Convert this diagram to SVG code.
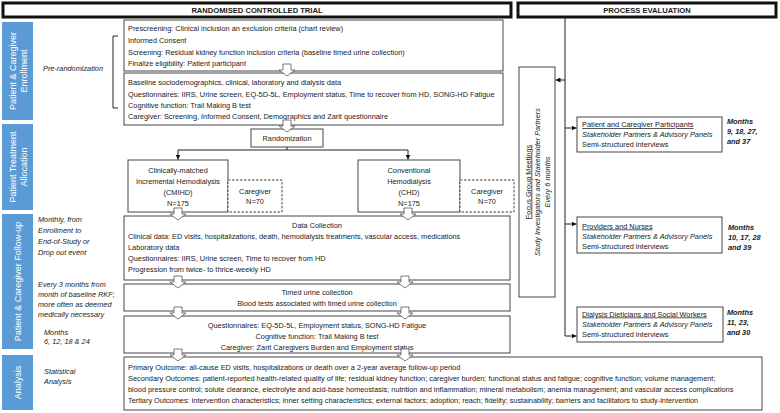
<svg xmlns="http://www.w3.org/2000/svg" width="780" height="413" viewBox="0 0 780 413">
<style>
text{font-family:"Liberation Sans",Arial,sans-serif;font-size:7.35px;fill:#1a1a1a}
.b{fill:#fff;stroke:#444;stroke-width:1}
.hd{fill:#fff;stroke:#111;stroke-width:3}
.dash{fill:#fff;stroke:#444;stroke-width:1;stroke-dasharray:2.5,1.5}
.bar{fill:#5b9bd5}
.bt{fill:#fff;font-size:9px}
.hdt{font-weight:bold;font-size:7.6px}
.it{font-style:italic}
.bi{font-style:italic;font-weight:bold}
.c{text-anchor:middle}
.u{text-decoration:underline}
.ln{fill:none;stroke:#222;stroke-width:1}
.ha{fill:#fff;stroke:#555;stroke-width:0.8}
</style>
<defs>
<marker id="ah" viewBox="0 0 6 6" refX="6" refY="3" markerWidth="5" markerHeight="5" orient="auto" markerUnits="userSpaceOnUse"><path d="M0,0 L6,3 L0,6 Z" fill="#111"/></marker>
<path id="hollow" d="M-4,0 H4 V6 H8 L0,12 L-8,6 H-4 Z"/>
</defs>

<g id="header-rct"><rect class="hd" x="3" y="3" width="508" height="14"/><text class="hdt c" x="257" y="12.7">RANDOMISED CONTROLLED TRIAL</text></g>
<g id="header-pe"><rect class="hd" x="518" y="3" width="258" height="14"/><text class="hdt c" x="647" y="12.7">PROCESS EVALUATION</text></g>

<g id="bar-enrollment"><rect class="bar" x="2" y="22" width="31" height="98"/><text class="bt c" transform="translate(17.5,71) rotate(-90)"><tspan x="0" y="-1.5">Patient &amp; Caregiver</tspan><tspan x="0" y="9">Enrollment</tspan></text></g>
<g id="bar-allocation"><rect class="bar" x="2" y="124" width="31" height="86"/><text class="bt c" transform="translate(17.5,167) rotate(-90)"><tspan x="0" y="-1.5">Patient Treatment</tspan><tspan x="0" y="9">Allocation</tspan></text></g>
<g id="bar-followup"><rect class="bar" x="2" y="214" width="31" height="135"/><text class="bt c" transform="translate(17.5,281.5) rotate(-90)"><tspan x="0" y="3">Patient &amp; Caregiver Follow-up</tspan></text></g>
<g id="bar-analysis"><rect class="bar" x="2" y="355" width="31" height="55"/><text class="bt c" transform="translate(17.5,382.5) rotate(-90)"><tspan x="0" y="3">Analysis</tspan></text></g>

<g id="side-labels">
<text class="it" x="43" y="71">Pre-randomization</text>
<path class="ln" d="M118,36 H113 V108 H118"/>
<text class="it" x="38"><tspan x="38" y="221.5">Monthly, from</tspan><tspan x="38" y="232.5">Enrollment to</tspan><tspan x="38" y="243.5">End-of-Study or</tspan><tspan x="38" y="254.5">Drop out event</tspan></text>
<text class="it" x="38"><tspan x="38" y="287">Every 3 months from</tspan><tspan x="38" y="297">month of baseline RKF;</tspan><tspan x="38" y="307">more often as deemed</tspan><tspan x="38" y="317">medically necessary</tspan></text>
<text class="it" x="44"><tspan x="44" y="334.5">Months</tspan><tspan x="44" y="344">6, 12, 18 &amp; 24</tspan></text>
<text class="it" x="44"><tspan x="44" y="374">Statistical</tspan><tspan x="44" y="384">Analysis</tspan></text>
</g>

<g id="prescreening"><rect class="b" x="124" y="20" width="379" height="51"/>
<text x="128"><tspan x="128" y="30.5">Prescreening: Clinical inclusion an exclusion criteria (chart review)</tspan><tspan x="128" y="42.5">Informed Consent</tspan><tspan x="128" y="54.5">Screening: Residual kidney function inclusion criteria (baseline timed urine collection)</tspan><tspan x="128" y="65.5">Finalize eligibility: Patient participant</tspan></text></g>

<g id="baseline"><rect class="b" x="124" y="73" width="379" height="52"/>
<text x="128"><tspan x="128" y="85">Baseline sociodemographics, clinical, laboratory and dialysis data</tspan><tspan x="128" y="96.5">Questionnaires: IIRS, Urine screen, EQ-5D-5L, Employment status, Time to recover from HD, SONG-HD Fatigue</tspan><tspan x="128" y="108">Cognitive function: Trail Making B test</tspan><tspan x="128" y="119">Caregiver: Screening, Informed Consent, Demographics and Zarit questionnaire</tspan></text></g>

<g id="randomization"><rect class="b" x="251" y="129" width="72" height="18"/><text class="c" x="287" y="140.7">Randomization</text></g>

<g id="cmihd"><rect class="b" x="128" y="160" width="100" height="52"/>
<text class="c"><tspan x="178" y="172.5">Clinically-matched</tspan><tspan x="178" y="183.5">Incremental Hemodialysis</tspan><tspan x="178" y="194.5">(CMIHD)</tspan><tspan x="178" y="205.5">N=175</tspan></text></g>
<g id="caregiver-1"><rect class="dash" x="228" y="180" width="54" height="32"/><text class="c"><tspan x="255" y="193.5">Caregiver</tspan><tspan x="255" y="204">N=70</tspan></text></g>

<g id="chd"><rect class="b" x="358" y="160" width="102" height="52"/>
<text class="c"><tspan x="409" y="172.5">Conventional</tspan><tspan x="409" y="183.5">Hemodialysis</tspan><tspan x="409" y="194.5">(CHD)</tspan><tspan x="409" y="205.5">N=175</tspan></text></g>
<g id="caregiver-2"><rect class="dash" x="460" y="180" width="54" height="32"/><text class="c"><tspan x="487" y="193.5">Caregiver</tspan><tspan x="487" y="204">N=70</tspan></text></g>

<g id="data-collection"><rect class="b" x="124" y="216" width="386" height="64"/>
<text class="c" x="317" y="227.5">Data Collection</text>
<text x="128"><tspan x="128" y="238.5">Clinical data: ED visits, hospitalizations, death, hemodialysis treatments, vascular access, medications</tspan><tspan x="128" y="249.5">Laboratory data</tspan><tspan x="128" y="260.5">Questionnaires:  IIRS, Urine screen, Time to recover from HD</tspan><tspan x="128" y="271.5">Progression from twice- to thrice-weekly HD</tspan></text></g>

<g id="timed-urine"><rect class="b" x="124" y="284" width="386" height="27"/>
<text class="c"><tspan x="317" y="294.5">Timed urine collection</tspan><tspan x="317" y="305.5">Blood tests associated with timed urine collection</tspan></text></g>

<g id="questionnaires"><rect class="b" x="124" y="316" width="386" height="37"/>
<text class="c"><tspan x="317" y="327.5">Questionnaires: EQ-5D-5L, Employment status, SONG-HD Fatigue</tspan><tspan x="317" y="338.5">Cognitive function: Trail Making B test</tspan><tspan x="317" y="349.5">Caregiver: Zarit Caregivers Burden and Employment status</tspan></text></g>

<g id="outcomes"><rect class="b" x="124" y="357" width="638" height="53"/>
<text x="128"><tspan x="128" y="369.5">Primary Outcome: all-cause ED visits, hospitalizations or death over a 2-year average follow-up period</tspan><tspan x="128" y="380.5">Secondary Outcomes: patient-reported health-related quality of life; residual kidney function; caregiver burden; functional status and fatigue; cognitive function; volume management;</tspan><tspan x="128" y="391.5">blood pressure control; solute clearance, electrolyte and acid-base homeostasis; nutrition and inflammation; mineral metabolism; anemia management; and vascular access complications</tspan><tspan x="128" y="402.5">Tertiary Outcomes: intervention characteristics; inner setting characteristics; external factors; adoption; reach; fidelity; sustainability; barriers and facilitators to study-intervention</tspan></text></g>

<g id="focus-group"><rect class="b" x="519" y="67" width="36" height="230"/>
<text class="c" transform="translate(537,182) rotate(-90)"><tspan class="u" x="0" y="-6.5">Focus Group Meetings</tspan><tspan class="it" x="0" y="3">Study Investigators and Stakeholder Partners</tspan><tspan class="it" x="0" y="12.5">Every 6 months</tspan></text></g>

<g id="pe-patients"><rect class="b" x="577" y="117" width="145" height="35"/>
<text x="582"><tspan class="u" x="582" y="127">Patient and Caregiver Participants</tspan><tspan class="it" x="582" y="137">Stakeholder Partners &amp; Advisory Panels</tspan><tspan x="582" y="147">Semi-structured interviews</tspan></text>
<text class="bi"><tspan x="727" y="124">Months</tspan><tspan x="727" y="134">9, 18, 27,</tspan><tspan x="727" y="144">and 37</tspan></text></g>

<g id="pe-providers"><rect class="b" x="577" y="217" width="145" height="36"/>
<text x="582"><tspan class="u" x="582" y="228.5">Providers and Nurses</tspan><tspan class="it" x="582" y="238.5">Stakeholder Partners &amp; Advisory Panels</tspan><tspan x="582" y="248.5">Semi-structured interviews</tspan></text>
<text class="bi"><tspan x="728" y="230">Months</tspan><tspan x="728" y="240">10, 17, 28</tspan><tspan x="728" y="250">and 39</tspan></text></g>

<g id="pe-dieticians"><rect class="b" x="577" y="307" width="146" height="35"/>
<text x="582"><tspan class="u" x="582" y="316.5">Dialysis Dieticians and Social Workers</tspan><tspan class="it" x="582" y="326.5">Stakeholder Partners &amp; Advisory Panels</tspan><tspan x="582" y="336.5">Semi-structured interviews</tspan></text>
<text class="bi"><tspan x="727" y="314.5">Months</tspan><tspan x="727" y="324.5">11, 23,</tspan><tspan x="727" y="334.5">and 30</tspan></text></g>

<g id="connectors">
<use href="#hollow" class="ha" x="287" y="64"/>
<use href="#hollow" class="ha" x="287" y="120"/>
<path class="ln" d="M287,147 V150 M178,150 H408"/>
<path class="ln" d="M178,150 V159.5" marker-end="url(#ah)"/>
<path class="ln" d="M408,150 V159.5" marker-end="url(#ah)"/>
<use href="#hollow" class="ha" x="178" y="208"/>
<use href="#hollow" class="ha" x="408" y="208"/>
<use href="#hollow" class="ha" x="178" y="276"/>
<use href="#hollow" class="ha" x="405" y="276"/>
<use href="#hollow" class="ha" x="178" y="307"/>
<use href="#hollow" class="ha" x="405" y="307"/>
<use href="#hollow" class="ha" x="178" y="349"/>
<use href="#hollow" class="ha" x="405" y="349"/>
<path class="ln" d="M565,17 V336"/>
<path class="ln" d="M565,80 H555.5" marker-end="url(#ah)"/>
<path class="ln" d="M565,128 H576.5" marker-end="url(#ah)"/>
<path class="ln" d="M565,224 H576.5" marker-end="url(#ah)"/>
<path class="ln" d="M565,336 H576.5" marker-end="url(#ah)"/>
</g>
</svg>
